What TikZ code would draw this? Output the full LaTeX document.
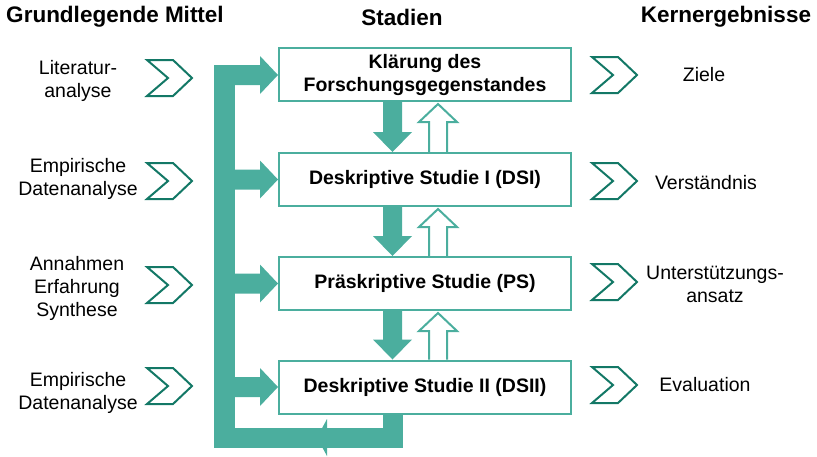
\documentclass[tikz,border=0pt]{standalone}
\usepackage{fontspec}
\setmainfont{Liberation Sans}
\usetikzlibrary{calc}
\definecolor{teal}{HTML}{4BAE9E}
\definecolor{darkteal}{HTML}{137866}
\begin{document}
\begin{tikzpicture}[x=1pt,y=-1pt,
  heading/.style={font=\fontsize{22.5}{26}\selectfont\bfseries, inner sep=0pt},
  label/.style={font=\fontsize{19.5}{23}\selectfont, align=center, inner sep=0pt},
  stage/.style={draw=teal, line width=2pt, fill=white, minimum width=292pt,
    minimum height=53pt, inner sep=0pt, align=center,
    font=\fontsize{19.5}{23}\selectfont\bfseries},
  chev/.style={draw=darkteal, line width=2pt, line join=miter},
  blockfill/.style={fill=teal, draw=none},
  blockline/.style={draw=teal, line width=2pt, fill=white, line join=miter}]
\useasboundingbox (0,0) rectangle (817,456);

% column headings
\node[heading] (h1) at (115,17) {Grundlegende Mittel};
\node[heading] (h2) at (402,17) {Stadien};
\node[heading] (h3) at (726,17) {Kernergebnisse};

% feedback bar on the left with its branches into the stages
\fill[teal] (214,65) rectangle (235,448);
\foreach \yy/\nm in {75/a1,179.5/a2,283.5/a3,387/a4}{
  \coordinate (\nm) at (278,\yy);
  \fill[teal] (235,\yy-10) -- (260,\yy-10) -- (260,\yy-19) -- (\nm)
     -- (260,\yy+19) -- (260,\yy+10) -- (235,\yy+10) -- cycle;
}
% return path below the last stage
\fill[teal] (214,428) rectangle (403,448);
\fill[teal] (383,410) rectangle (403,448);
\fill[teal] (327,419) -- (317,437.5) -- (327,456) -- cycle;

% forward (filled) and backward (outlined) arrows between stages
% \ya = bottom edge of the upper stage, \yb = top edge of the lower stage
\foreach \ya/\yb in {102/152,207/256,311/359.5}{
  \path[blockfill] (383,\ya) -- (402,\ya) -- (402,\yb-20) -- (412,\yb-20)
      -- (392.5,\yb) -- (373,\yb-20) -- (383,\yb-20) -- cycle;
  \path[blockline] (429,\yb) -- (429,\ya+20) -- (419,\ya+20) -- (438,\ya+2)
      -- (457,\ya+20) -- (447,\ya+20) -- (447,\yb);
}

% stages
\node[stage] (b1) at (425,74.5) {Klärung des\\Forschungsgegenstandes};
\node[stage] (b2) at (425,179.5) {Deskriptive Studie I (DSI)};
\node[stage] (b3) at (425,283.5) {Präskriptive Studie (PS)};
\node[stage] (b4) at (425,387) {Deskriptive Studie II (DSII)};

% chevrons
\foreach \cx/\cy/\nm in {169.5/78/l1,169.5/181/l2,169.5/285/l3,169.5/386/l4,
                         614.5/75/r1,614.5/181/r2,614.5/282/r3,614.5/385/r4}{
  \coordinate (\nm) at (\cx,\cy);
  \draw[chev] ($(\nm)+(-22.5,-18)$) -- ($(\nm)+(3.5,-18)$) -- ($(\nm)+(22.5,0)$)
     -- ($(\nm)+(3.5,18)$) -- ($(\nm)+(-22.5,18)$) -- ($(\nm)+(-1.5,0)$) -- cycle;
}

% inputs
\node[label] (t1) at (78,81) {Literatur-\\analyse};
\node[label] (t2) at (78,179) {Empirische\\Datenanalyse};
\node[label] (t3) at (77,288) {Annahmen\\Erfahrung\\Synthese};
\node[label] (t4) at (78,393) {Empirische\\Datenanalyse};

% results
\node[label] (e1) at (704,75) {Ziele};
\node[label] (e2) at (706,183) {Verständnis};
\node[label] (e3) at (715,284) {Unterstützungs-\\ansatz};
\node[label] (e4) at (705,385) {Evaluation};
\end{tikzpicture}
\end{document}
